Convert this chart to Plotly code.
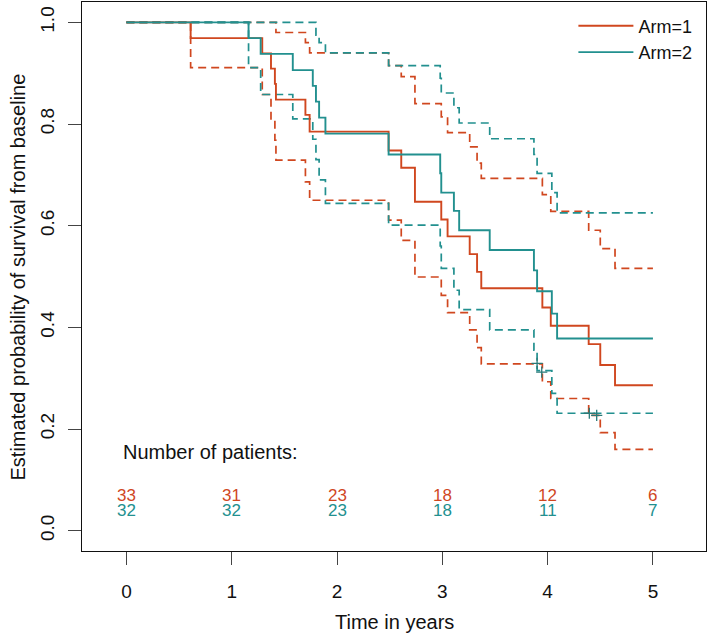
import plotly.graph_objects as go

# ---------------- data ----------------
arm1_time = [0, 0.61, 1.29, 1.373, 1.41, 1.42, 1.70, 1.74, 2.49, 2.61, 2.74, 2.99,
             3.05, 3.26, 3.33, 3.37, 3.95, 4.03, 4.39, 4.50, 4.64, 5.0]
arm1_surv = [1, 0.969, 0.939, 0.909, 0.879, 0.848, 0.818, 0.785, 0.748, 0.714, 0.647,
             0.612, 0.579, 0.544, 0.509, 0.477, 0.439, 0.403, 0.367, 0.326, 0.286, 0.286]
arm1_upper = [1, 1, 1, 1, 1, 0.98, 0.96, 0.94, 0.915, 0.893, 0.84, 0.814, 0.783,
              0.755, 0.723, 0.693, 0.661, 0.628, 0.591, 0.555, 0.516, 0.516]
arm1_lower = [1, 0.911, 0.858, 0.81, 0.768, 0.729, 0.686, 0.65, 0.611, 0.571, 0.499,
              0.463, 0.429, 0.395, 0.36, 0.328, 0.293, 0.26, 0.227, 0.193, 0.16, 0.16]

arm2_time = [0, 1.16, 1.275, 1.58, 1.77, 1.80, 1.83, 1.89, 2.49, 2.98, 2.99, 3.11,
             3.16, 3.45, 3.87, 3.90, 4.04, 4.09, 5.0]
arm2_surv = [1, 0.969, 0.938, 0.906, 0.875, 0.844, 0.8125, 0.781, 0.740, 0.703, 0.665,
             0.629, 0.591, 0.552, 0.512, 0.471, 0.427, 0.378, 0.378]
arm2_upper = [1, 1, 1, 1, 1, 0.975, 0.96, 0.94, 0.915, 0.89, 0.861, 0.832, 0.802,
              0.771, 0.74, 0.703, 0.665, 0.625, 0.625]
arm2_lower = [1, 0.911, 0.858, 0.81, 0.77, 0.73, 0.69, 0.644, 0.601, 0.56, 0.516,
              0.473, 0.435, 0.395, 0.355, 0.315, 0.27, 0.231, 0.231]

censor_time = [3.90, 3.944, 4.396, 4.466]
censor_surv = [0.329, 0.312, 0.231, 0.227]

risk_times = [0, 1, 2, 3, 4, 5]
risk_arm1 = [33, 31, 23, 18, 12, 6]
risk_arm2 = [32, 32, 23, 18, 11, 7]

x_ticks = [0, 1, 2, 3, 4, 5]
y_ticks = [0.0, 0.2, 0.4, 0.6, 0.8, 1.0]
y_ticktext = ["0.0", "0.2", "0.4", "0.6", "0.8", "1.0"]

RED = "#D0471F"
TEAL = "#22908F"
FONT = "Liberation Sans, Arial, sans-serif"

fig = go.Figure()

def add_curve(t, s, color, name, dash, show):
    fig.add_trace(go.Scatter(
        x=t, y=s, mode="lines", line_shape="hv", name=name,
        line=dict(color=color, width=1.9 if dash == "solid" else 1.7, dash=dash),
        showlegend=show, hoverinfo="skip"))

DASH = "8px,5px"
add_curve(arm1_time, arm1_upper, RED, "Arm=1 upper", DASH, False)
add_curve(arm1_time, arm1_lower, RED, "Arm=1 lower", DASH, False)
add_curve(arm2_time, arm2_upper, TEAL, "Arm=2 upper", DASH, False)
add_curve(arm2_time, arm2_lower, TEAL, "Arm=2 lower", DASH, False)
add_curve(arm1_time, arm1_surv, RED, "Arm=1", "solid", True)
add_curve(arm2_time, arm2_surv, TEAL, "Arm=2", "solid", True)

fig.add_trace(go.Scatter(
    x=censor_time, y=censor_surv, mode="markers", showlegend=False,
    marker=dict(symbol="cross-thin", size=8, line=dict(color="#2a7a78", width=1.3)),
    hoverinfo="skip"))

annotations = []
annotations.append(dict(x=-0.055, y=0.1547, xref="x", yref="y", text="Number of patients:",
                        showarrow=False, xanchor="left", yanchor="middle",
                        font=dict(family=FONT, size=20, color="#111")))
for t, n1, n2 in zip(risk_times, risk_arm1, risk_arm2):
    annotations.append(dict(x=t, y=0.0688, xref="x", yref="y", text=str(n1), showarrow=False,
                            xanchor="center", yanchor="middle",
                            font=dict(family=FONT, size=17, color=RED)))
    annotations.append(dict(x=t, y=0.0401, xref="x", yref="y", text=str(n2), showarrow=False,
                            xanchor="center", yanchor="middle",
                            font=dict(family=FONT, size=17, color=TEAL)))
annotations.append(dict(x=0.5, y=-0.1293, xref="paper", yref="paper", text="Time in years",
                        showarrow=False, xanchor="center", yanchor="middle",
                        font=dict(family=FONT, size=20, color="#111")))
annotations.append(dict(x=-0.1026, y=0.5, xref="paper", yref="paper",
                        text="Estimated probability of survival from baseline",
                        textangle=-90, showarrow=False, xanchor="center", yanchor="middle",
                        font=dict(family=FONT, size=20, color="#111")))

axis_common = dict(showgrid=False, zeroline=False, showline=True, linecolor="#111",
                   linewidth=1, mirror=True, ticks="outside", ticklen=13, tickwidth=1,
                   tickcolor="#444", automargin=False,
                   tickfont=dict(family=FONT, size=19, color="#111"))

fig.update_layout(
    width=709, height=635,
    margin=dict(l=82, r=3, t=2, b=84, autoexpand=False),
    paper_bgcolor="white", plot_bgcolor="white",
    font=dict(family=FONT, size=19, color="#111"),
    xaxis=dict(range=[-0.4217, 5.504], tickvals=x_ticks, ticklabelstandoff=10, **axis_common),
    yaxis=dict(range=[-0.04, 1.04], tickvals=y_ticks, ticktext=y_ticktext, tickangle=-90,
               ticklabelstandoff=6, **axis_common),
    legend=dict(x=0.7875, y=0.99, xanchor="left", yanchor="top", bgcolor="rgba(0,0,0,0)",
                font=dict(family=FONT, size=18, color="#111"), itemwidth=55,
                tracegroupgap=0),
    annotations=annotations,
)

fig.write_html("out.html",
               config={"displayModeBar": False, "staticPlot": True},
               post_script="document.body.style.margin='0';document.body.style.overflow='hidden';")
